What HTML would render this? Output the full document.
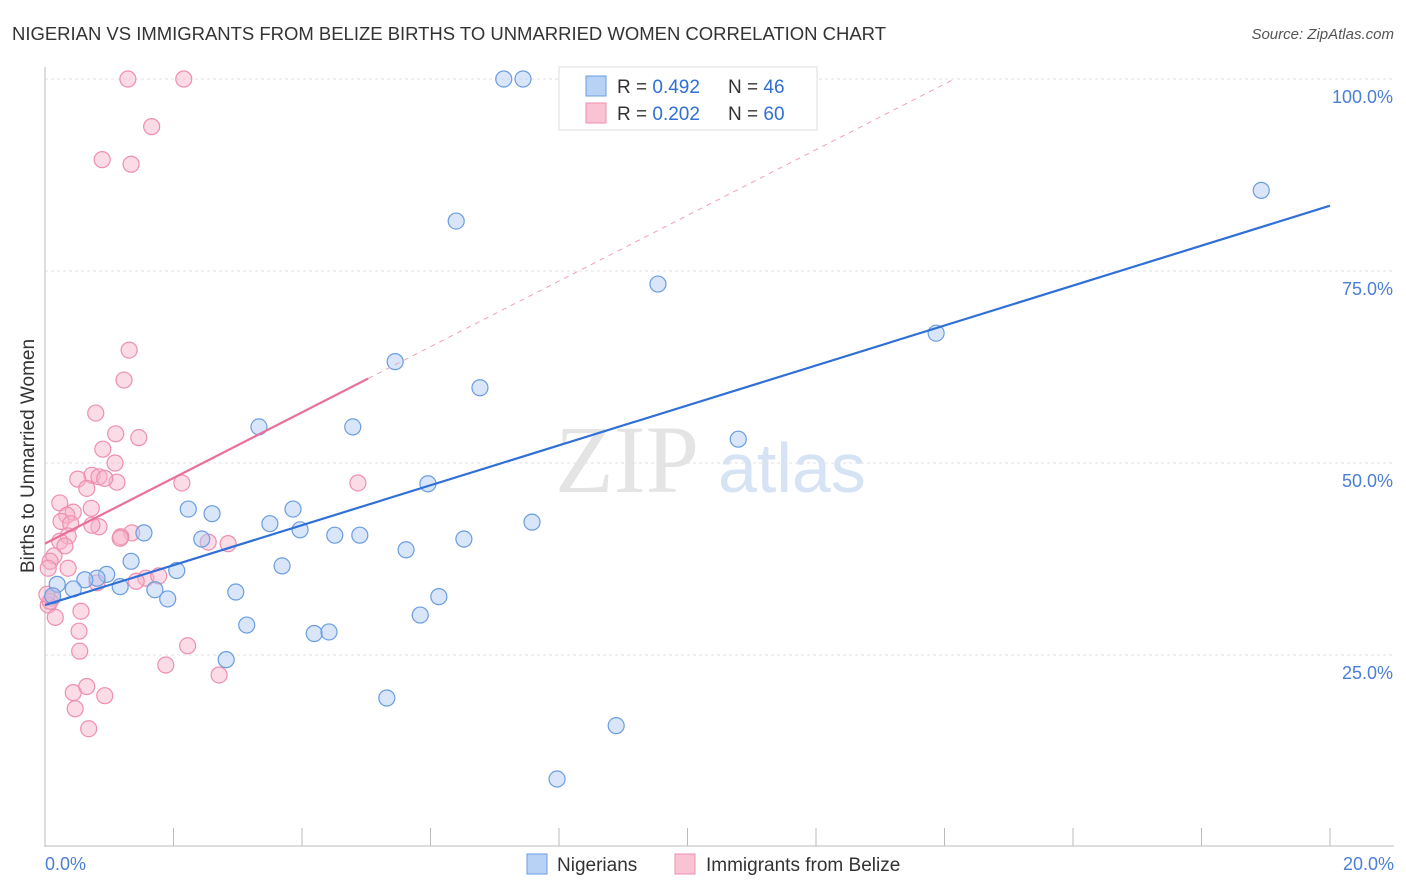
<!DOCTYPE html>
<html><head><meta charset="utf-8"><style>
body{margin:0;background:#fff;font-family:"Liberation Sans",sans-serif;}
#wrap{position:relative;width:1406px;height:892px;overflow:hidden;}
</style></head><body>
<div id="wrap">
<svg id="svg" width="1406" height="892" xmlns="http://www.w3.org/2000/svg">
<text x="12" y="40" font-size="18.5" fill="#333" textLength="874">NIGERIAN VS IMMIGRANTS FROM BELIZE BIRTHS TO UNMARRIED WOMEN CORRELATION CHART</text>
<text x="1394" y="39" font-size="15" fill="#555" text-anchor="end" font-style="italic">Source: ZipAtlas.com</text>
<text x="34" y="456" font-size="19" fill="#333" text-anchor="middle" transform="rotate(-90 34 456)">Births to Unmarried Women</text>
<text x="555" y="492" font-size="96" fill="#e4e4e4" font-family="Liberation Serif,serif">ZIP</text>
<text x="718" y="492" font-size="70" fill="#d6e3f5">atlas</text>
<g id="grid"></g><g id="marks"></g><g id="lines"></g>
<g>
<rect x="559" y="67" width="258" height="63" fill="#fff" stroke="#ddd"/>
<rect x="586" y="76" width="20" height="20" fill="#b7d2f5" stroke="#6a9de0"/>
<rect x="586" y="103" width="20" height="20" fill="#f9c3d3" stroke="#ee8fae"/>
<text x="617" y="93" font-size="19" fill="#333">R = <tspan fill="#2f6fd6">0.492</tspan></text>
<text x="728" y="93" font-size="19" fill="#333">N = <tspan fill="#2f6fd6">46</tspan></text>
<text x="617" y="120" font-size="19" fill="#333">R = <tspan fill="#2f6fd6">0.202</tspan></text>
<text x="728" y="120" font-size="19" fill="#333">N = <tspan fill="#2f6fd6">60</tspan></text>
</g>
<g>
<rect x="527" y="854" width="20" height="20" fill="#b7d2f5" stroke="#6a9de0"/>
<text x="557" y="871" font-size="19" fill="#333">Nigerians</text>
<rect x="675" y="854" width="20" height="20" fill="#f9c3d3" stroke="#ee8fae"/>
<text x="706" y="871" font-size="19" fill="#333">Immigrants from Belize</text>
</g>
<text x="45" y="870" font-size="18" fill="#4a7fd6">0.0%</text>
<text x="1394" y="870" font-size="18" fill="#4a7fd6" text-anchor="end">20.0%</text>
</svg></div>
<script>
const yTicks=[100,75,50,25];
const yTickLabels=["100.0%","75.0%","50.0%","25.0%"];
const blueX=[7.14,7.44,18.93,6.40,9.54,13.87,5.45,6.77,3.33,4.79,10.79,5.96,2.23,2.60,3.86,1.54,3.50,3.97,4.51,4.90,7.58,6.52,2.44,5.62,1.34,3.69,2.05,0.96,0.81,0.62,1.17,1.71,1.91,2.97,0.44,0.19,0.12,6.13,3.14,5.84,4.19,4.42,2.82,5.32,8.89,7.97];
const blueY=[100,100,85.5,81.5,73.3,66.9,63.2,59.8,54.7,54.7,53.1,47.3,44.0,43.4,44.0,40.9,42.1,41.3,40.6,40.6,42.3,40.1,40.1,38.7,37.2,36.6,36.0,35.5,35.0,34.8,33.9,33.5,32.3,33.2,33.6,34.2,32.7,32.6,28.9,30.2,27.8,28.0,24.4,19.4,15.8,8.85];
const pinkX=[1.29,2.16,1.66,0.89,1.34,1.31,1.23,0.79,1.10,1.46,0.90,1.09,0.73,0.84,0.51,1.12,0.93,0.65,2.13,4.87,0.23,0.72,0.44,0.34,0.25,2.54,0.40,0.84,0.73,1.35,1.18,0.36,0.23,0.31,2.85,0.14,0.08,0.05,0.36,1.57,1.42,0.81,1.77,0.11,0.05,0.56,0.16,0.53,0.54,2.22,1.88,2.71,0.44,0.65,0.93,0.47,0.68,0.08,0.03,1.17];
const pinkY=[100,100,93.8,89.5,88.9,64.7,60.8,56.5,53.8,53.3,51.8,50.0,48.4,48.2,47.9,47.5,48.0,46.7,47.4,47.4,44.8,44.1,43.6,43.2,42.4,39.7,42.1,41.7,41.9,40.9,40.4,40.5,39.8,39.2,39.5,37.9,37.2,36.3,36.3,35.0,34.6,34.4,35.3,32.4,31.5,30.7,29.9,28.1,25.5,26.2,23.7,22.4,20.1,20.9,19.7,18.0,15.4,32.0,32.9,40.2];
const blueFit=[31.5,83.5], pinkFit=[39.5,61];
const X=v=>45+v/20*1285, Y=v=>847-v/100*768;
const NS="http://www.w3.org/2000/svg";
function mk(t,a,p){const e=document.createElementNS(NS,t);for(const k in a)e.setAttribute(k,a[k]);p.appendChild(e);return e;}
const grid=document.getElementById('grid'),marks=document.getElementById('marks'),lines=document.getElementById('lines');
yTicks.forEach((t,i)=>{
 const l=mk('line',{x1:45,x2:1394,y1:Y(t),y2:Y(t),stroke:'#e2e2e2','stroke-dasharray':'3,3'},grid);
 
 
 const tx=mk('text',{x:1393,y:Y(t)+24,'font-size':18,fill:'#4a7fd6','text-anchor':'end'},grid);
 tx.textContent=yTickLabels[i];
 
 
});
mk('line',{x1:45,x2:45,y1:67,y2:847,stroke:'#bbb'},grid);
mk('line',{x1:45,x2:1394,y1:846,y2:846,stroke:'#bbb'},grid);
for(let i=1;i<=10;i++){const t=mk('line',{x1:X(i*2),x2:X(i*2),y1:828,y2:846,stroke:'#bbb'},grid);
 
 }
pinkX.forEach((x,i)=>{const c=mk('circle',{cx:X(x),cy:Y(pinkY[i]),r:8,fill:'rgba(247,176,199,0.45)',stroke:'#ee8fae','stroke-width':1.2},marks);
 
 });
blueX.forEach((x,i)=>{const c=mk('circle',{cx:X(x),cy:Y(blueY[i]),r:8,fill:'rgba(170,200,243,0.45)',stroke:'#6a9de0','stroke-width':1.2},marks);
 
 });
const bl=mk('line',{x1:X(0),y1:Y(blueFit[0]),x2:X(20),y2:Y(blueFit[1]),stroke:'#2f6fd6','stroke-width':2.2},lines);


const slope=(pinkFit[1]-pinkFit[0])/5.03;
const pe=(100-pinkFit[0])/slope;
const pd=mk('line',{x1:X(5.03),y1:Y(pinkFit[1]),x2:X(pe),y2:Y(100),stroke:'#f0a0b8','stroke-width':1,'stroke-dasharray':'5,5'},lines);


const pl=mk('line',{x1:X(0),y1:Y(pinkFit[0]),x2:X(5.03),y2:Y(pinkFit[1]),stroke:'#e8709a','stroke-width':2.2},lines);


</script>
</body></html>
